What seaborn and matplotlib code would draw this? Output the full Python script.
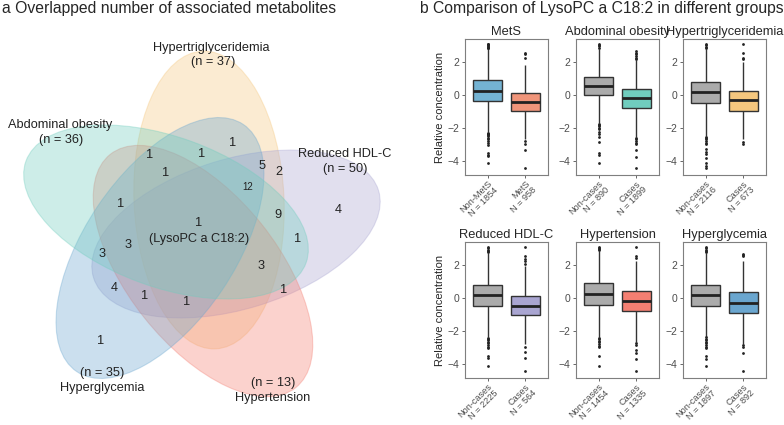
import numpy as np
import pandas as pd
import matplotlib
matplotlib.use("Agg")
import matplotlib.pyplot as plt
from matplotlib.patches import Ellipse
import seaborn as sns

sns.set_style("ticks")
plt.rcParams['font.family'] = ['Liberation Sans', 'DejaVu Sans']

# ---------------- panel a: venn data ----------------
venn_sets = ["Hypertriglyceridemia", "Reduced HDL-C", "Hypertension", "Hyperglycemia", "Abdominal obesity"]
venn_n = [37, 50, 13, 35, 36]
venn_colors = ["#F5C77E", "#A9A5D1", "#F47F72", "#6AA6CF", "#70CDBE"]
venn_counts = ["1", "1", "1", "5", "2", "1", "12", "4", "1", "9", "1", "3", "3", "1", "3", "4", "1", "1", "1", "1"]
venn_count_xy = [(233, 143), (150, 155), (202, 154), (262, 166), (279, 172), (166, 173), (248, 187),
                 (338, 210), (121, 204), (278, 215), (199, 223), (128, 245), (102, 254), (298, 239),
                 (261, 266), (114, 288), (145, 296), (187, 302), (284, 290), (101, 341)]
core_name = "(LysoPC a C18:2)"

# ---------------- panel b: box summary data ----------------
panel_titles = ["MetS", "Abdominal obesity", "Hypertriglyceridemia", "Reduced HDL-C", "Hypertension", "Hyperglycemia"]
ref_names = ["Non-MetS", "Non-cases", "Non-cases", "Non-cases", "Non-cases", "Non-cases"]
case_names = ["MetS", "Cases", "Cases", "Cases", "Cases", "Cases"]
ref_n = [1854, 890, 2116, 2225, 1454, 1897]
case_n = [958, 1899, 673, 564, 1335, 892]
ref_color = "#ABABAB"
case_colors = ["#F0957A", "#70CDBE", "#F5C77E", "#A9A5D1", "#F47F72", "#6AA6CF"]
ref_colors = ["#74B3D3", ref_color, ref_color, ref_color, ref_color, ref_color]

ref_q1 = [-0.39, -0.04, -0.52, -0.49, -0.43, -0.47]
ref_med = [0.25, 0.54, 0.14, 0.14, 0.25, 0.16]
ref_q3 = [0.87, 1.09, 0.80, 0.78, 0.87, 0.80]
ref_lo = [-2.27, -1.73, -2.49, -2.39, -2.31, -2.37]
ref_hi = [2.75, 2.78, 2.77, 2.68, 2.75, 2.70]
ref_out = [
    [2.8, 2.85, 2.9, 2.95, 3.0, 3.05, 3.08, -2.3, -2.35, -2.4, -2.45, -2.5, -2.6, -2.7, -2.8, -2.9, -3.05, -3.5, -3.63, -3.73, -4.15],
    [2.85, 2.95, 3.0, 3.05, -1.78, -1.85, -1.9, -2.0, -2.08, -2.25, -2.35, -2.55, -2.85, -3.5, -3.65, -4.15],
    [2.82, 2.9, 2.98, 3.05, -2.55, -2.62, -2.7, -2.8, -2.9, -3.0, -3.25, -3.45, -3.6, -3.8, -4.1, -4.3, -4.45],
    [2.75, 2.82, 2.9, 2.98, 3.05, -2.42, -2.5, -2.58, -2.65, -2.75, -2.85, -2.95, -3.05, -3.55, -3.65, -4.15],
    [2.8, 2.88, 2.95, 3.02, 3.07, -2.35, -2.42, -2.5, -2.6, -2.7, -2.8, -2.9, -3.0, -3.55, -4.15],
    [2.75, 2.82, 2.9, 2.98, 3.05, -2.4, -2.48, -2.55, -2.65, -2.75, -2.85, -2.95, -3.05, -3.55, -3.7, -4.15],
]
case_q1 = [-1.01, -0.82, -0.97, -1.07, -0.82, -0.91]
case_med = [-0.43, -0.19, -0.33, -0.49, -0.19, -0.29]
case_q3 = [0.12, 0.35, 0.21, 0.12, 0.41, 0.35]
case_lo = [-2.70, -2.57, -2.70, -2.78, -2.66, -2.78]
case_hi = [1.80, 2.10, 1.95, 1.90, 2.25, 2.22]
case_out = [
    [2.2, 2.45, 2.55, -2.78, -2.95, -3.35, -4.4],
    [2.15, 2.25, 2.35, 2.45, 2.55, 2.62, -2.6, -2.7, -2.8, -2.9, -3.0, -3.35, -3.75, -4.42],
    [2.15, 2.25, 2.55, 3.05, -2.88, -2.98],
    [2.05, 2.2, 2.35, 2.5, 3.05, -2.95, -3.3, -3.67, -4.42],
    [2.38, 2.55, 3.05, -2.72, -2.85, -3.15, -3.35, -3.7, -4.42],
    [2.5, 2.6, 2.65, -2.85, -2.95, -3.35, -4.42],
]


def box_sample(q1, med, q3, lo, hi, out, m=200):
    # sample whose quartiles / whiskers / fliers reproduce the read box summary
    return list(out) + [lo, hi] + [q1] * m + [med] * m + [q3] * m


fig = plt.figure(figsize=(7.84, 4.25), dpi=100)

# ---------------- panel a ----------------
axv = fig.add_axes([0, 0, 400 / 784, 1])
axv.set_xlim(0, 400)
axv.set_ylim(425, 0)
axv.set_aspect("equal")
axv.axis("off")

# ellipse layout (pixel centres, major-axis angle in degrees, counter-clockwise on screen)
ell_xy = [(209, 200), (236, 234), (203, 271), (160, 248), (166, 212)]
ell_ang = [92.5, 17, -51.5, 56, 160]
for col, (ex, ey), ang in zip(venn_colors, ell_xy, ell_ang):
    axv.add_patch(Ellipse((ex, ey), 298, 150, angle=-ang,
                          facecolor=col, alpha=0.35, edgecolor=col, lw=0.8))

label_xy = [(211, 48), (345, 154), (273, 398), (102, 388), (60, 125)]
n_xy = [(213, 62), (345, 169), (273, 383), (102, 373), (61, 140)]
for name, n, (lx, ly), (nx, ny) in zip(venn_sets, venn_n, label_xy, n_xy):
    axv.text(lx, ly, name, ha="center", va="center", fontsize=9.2, color="#222222")
    axv.text(nx, ny, f"(n = {n})", ha="center", va="center", fontsize=9.2, color="#222222")

for c, (x, y) in zip(venn_counts, venn_count_xy):
    axv.text(x, y, c, ha="center", va="center", fontsize=7 if len(c) > 1 else 9.2, color="#222222")
axv.text(199, 239, core_name, ha="center", va="center", fontsize=9.2, color="#222222")

fig.text(0.002, 1 - 9 / 425, "a Overlapped number of associated metabolites", fontsize=11.3,
         ha="left", va="center")
fig.text(420 / 784, 1 - 9 / 425, "b Comparison of LysoPC a C18:2 in different groups", fontsize=11.3,
         ha="left", va="center")

# ---------------- panel b ----------------
lefts = [465, 576, 683]
tops = [39, 242]
w_px, h_px = 83, 136
for i, title in enumerate(panel_titles):
    row, col = divmod(i, 3)
    ax = fig.add_axes([lefts[col] / 784, 1 - (tops[row] + h_px) / 425, w_px / 784, h_px / 425])
    lab_ref = f"{ref_names[i]}\nN = {ref_n[i]}"
    lab_case = f"{case_names[i]}\nN = {case_n[i]}"
    v_ref = box_sample(ref_q1[i], ref_med[i], ref_q3[i], ref_lo[i], ref_hi[i], ref_out[i])
    v_case = box_sample(case_q1[i], case_med[i], case_q3[i], case_lo[i], case_hi[i], case_out[i])
    df = pd.DataFrame({"group": [lab_ref] * len(v_ref) + [lab_case] * len(v_case),
                       "value": v_ref + v_case})
    sns.boxplot(data=df, x="group", y="value", hue="group", order=[lab_ref, lab_case],
                palette=[ref_colors[i], case_colors[i]], saturation=1, width=0.75,
                linecolor="#333333", linewidth=1.0, fliersize=2.0, legend=False, ax=ax,
                showcaps=False,
                medianprops=dict(color="#222222", linewidth=2),
                flierprops=dict(marker="o", markerfacecolor="#222222", markeredgecolor="none"))
    ax.set_xlim(-0.6, 1.6)
    ax.set_ylim(-4.85, 3.37)
    ax.set_yticks([-4, -2, 0, 2])
    ax.set_title(title, fontsize=9.3, pad=3)
    ax.set_xlabel("")
    if col == 0:
        ax.set_ylabel("Relative concentration", fontsize=8, labelpad=2)
    else:
        ax.set_ylabel("")
    ax.tick_params(axis="y", labelsize=7.5, colors="#4D4D4D", length=2.5, width=0.6, pad=1.5)
    ax.tick_params(axis="x", labelsize=6.6, colors="#4D4D4D", length=2.5, width=0.6, pad=0.5)
    plt.setp(ax.get_xticklabels(), rotation=45, ha="right", va="top", rotation_mode="anchor",
             multialignment="right", linespacing=0.95)
    for s in ax.spines.values():
        s.set_color("#7F7F7F")
        s.set_linewidth(0.8)

fig.savefig("out.png", dpi=100)
